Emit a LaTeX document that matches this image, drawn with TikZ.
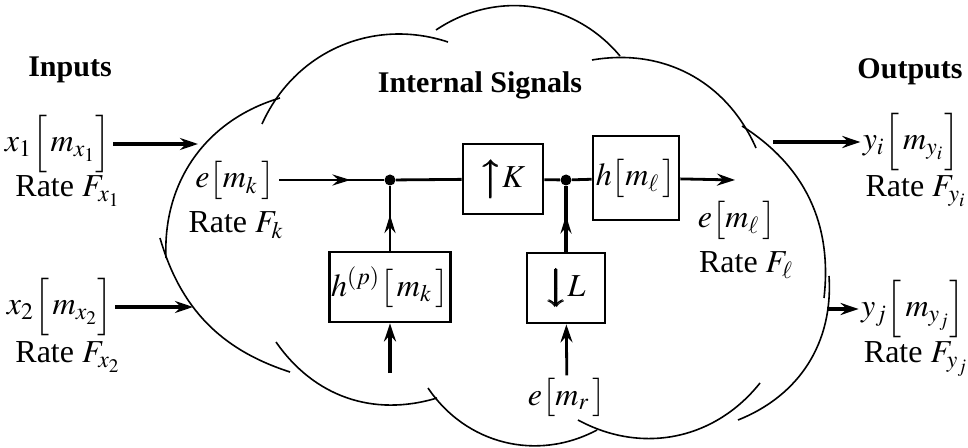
\documentclass[tikz,border=0pt]{standalone}
\usepackage{mathptmx}
\usepackage{amsbsy}
\usepackage{fontspec}
\setmainfont{Liberation Serif}
\usetikzlibrary{arrows.meta,decorations.markings}

\begin{document}
\begin{tikzpicture}[x=0.5pt,y=-0.5pt,
every node/.style = {font=\fontsize{16}{19}\selectfont},
title/.style = {font=\bfseries\fontsize{15}{18}\selectfont},
blk/.style = {draw, line width=1.4pt, minimum height=35pt, inner sep=1pt},
dot/.style = {circle, fill, inner sep=0pt, minimum size=5.5pt},
sig/.style = {line width=1.4pt},
thk/.style = {line width=2pt},
tip/.style = {-{Stealth[length=9pt,width=6pt,inset=3pt]}},
midarr/.style = {postaction={decorate}, decoration={markings,
	mark=at position #1 with {\arrow{Stealth[length=9pt,width=5.5pt,inset=3pt]}}}},
midarr/.default = 0.55,
cloudline/.style = {line width=0.8pt}]
	\useasboundingbox (0,0) rectangle (968,448);
	\draw[cloudline] (290,372) to[bend left=28] (160,238);
	\draw[cloudline] (166,258) to[bend left=38] (280,98);
	\draw[cloudline] (262,124) to[bend left=42] (448,42);
	\draw[cloudline] (436,30) to[bend left=42] (620,56);
	\draw[cloudline] (592,60) to[bend left=38] (756,148);
	\draw[cloudline] (742,126) to[bend left=32] (824,298);
	\draw[cloudline] (829,276) to[bend left=36] (738,420);
	\draw[cloudline] (760,383) to[bend left=40] (578,420);
	\draw[cloudline] (597,430) to[bend left=42] (428,388);
	\draw[cloudline] (437,398) to[bend left=36] (276,342);

	\node[title] (inp) at (70,70) {Inputs};
	\node[title] (intl) at (480,85) {Internal Signals};
	\node[title] (outp) at (910,72) {Outputs};

	\node[inner sep=1pt] (x1) at (58,144) {$x_1\Big[\,m_{x_1}\Big]$};
	\node[anchor=base] (rx1) at (68,197) {Rate $F_{x_1}$};
	\node[inner sep=1pt] (x2) at (60,307) {$x_2\Big[\,m_{x_2}\Big]$};
	\node[anchor=base] (rx2) at (68,363) {Rate $F_{x_2}$};
	\node[inner sep=1pt] (yi) at (911,142) {$y_i\Big[\,m_{y_i}\Big]$};
	\node[anchor=base] (ryi) at (916,197) {Rate $F_{y_i}$};
	\node[inner sep=1pt] (yj) at (913,309) {$y_j\Big[\,m_{y_j}\Big]$};
	\node[anchor=base] (ryj) at (916,363) {Rate $F_{y_j}$};

	\node[inner sep=2pt] (ek) at (235,180) {$e\big[m_k\,\big]$};
	\node[anchor=base] (rk) at (236,233) {Rate $F_k$};
	\node (el) at (737,220) {$e\big[m_\ell\,\big]$};
	\node[anchor=base] (rl) at (746,273) {Rate $F_\ell$};
	\node[inner sep=1pt] (er) at (567,397) {$e\big[m_r\,\big]$};

	\node[blk, minimum width=40pt] (K) at (503,179) {$\pmb{\big\uparrow}K$};
	\node[blk, minimum width=53pt] (hp) at (390,287) {$h^{(p)}\big[\,m_k\,\big]$};
	\node[blk, minimum width=39pt] (L) at (566,288) {$\pmb{\big\downarrow}L$};
	\node[blk, minimum width=43pt, minimum height=42pt] (h) at (636,178) {$h\big[m_\ell\,\big]$};
	\node[dot] (j1) at (390,180) {};
	\node[dot] (j2) at (566,180) {};

	\coordinate (x1end) at (198,144);
	\coordinate (x2end) at (193,307);
	\coordinate (yistart) at (773,142);
	\coordinate (yjstart) at (827,309);
	\coordinate (hpin) at (390,373);
	\coordinate (elend) at (735,180);

	\draw[thk,tip] (x1) -- (x1end);
	\draw[thk,tip] (x2) -- (x2end);
	\draw[thk,tip] (yistart) -- (yi);
	\draw[thk,tip] (yjstart) -- (yj);

	\draw[sig,midarr=0.68] (ek) -- (j1);
	\draw[sig] (j1) -- (K) -- (j2) -- (h);
	\draw[sig,tip] (h) -- (elend);
	\draw[sig,midarr] (hp) -- (j1);
	\draw[thk,midarr] (L) -- (j2);
	\draw[thk,tip] (hpin) -- (hp);
	\draw[sig,tip] (er) -- (L);
\end{tikzpicture}
\end{document}
